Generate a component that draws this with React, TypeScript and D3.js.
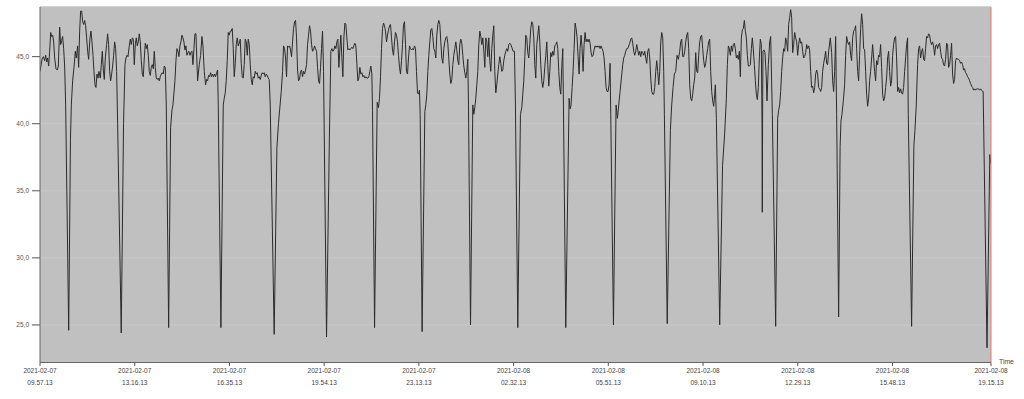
import React from "react";
import * as d3 from "d3";

// Start of the time axis (UTC) and the tick offsets in minutes
const START_UTC = Date.UTC(2021, 1, 7, 9, 57, 13);
const END_MINUTES = 1998;
const xTickMinutes = [0, 199, 398, 597, 796, 995, 1194, 1393, 1592, 1791, 1998];
const yTicks = [25, 30, 35, 40, 45];
const yDomain = [22.2, 48.7];
const xAxisTitle = "Time";

// [minutes since start, value]
const readings: [number, number][] = [
  [0,43.9],[4.2,44.8],[7,45.0],[9.8,44.7],[12,45.1],[14,44.6],[16,44.9],[18.2,44.3],[20.3,45.4],[22.4,46.8],
  [24.5,46.5],[26.6,46.6],[28.7,46.1],[30.8,44.9],[33.6,44.1],[36.4,44.0],[38.5,44.3],[41.3,47.2],[43.4,45.9],
  [45.5,46.2],[47.6,46.5],[49.7,45.6],[51.8,44.3],[53.9,41.4],[60.3,24.6],[64,38.8],[65.8,41.4],[68.6,43.2],
  [71.4,44.2],[74.2,45.4],[76.3,44.9],[79.1,45.8],[81.2,44.2],[83.3,46.9],[85.4,48.4],[87.5,48.4],[89.6,47.6],
  [91.7,47.4],[93.8,47.7],[95.9,47.3],[98,46.4],[100.1,45.4],[102.2,44.8],[105,46.4],[107.1,46.9],[109.2,46.1],
  [111.3,45.1],[113.4,43.9],[115.5,42.9],[117.6,42.7],[119.7,43.7],[121.8,43.4],[123.9,43.9],[126.7,43.4],
  [128.8,44.4],[130.9,45.4],[133,44.0],[135.1,43.3],[137.2,44.9],[140,45.9],[142.1,46.7],[144.2,45.9],
  [146.3,43.9],[148.4,43.2],[150.5,43.7],[152.6,44.3],[154.7,45.1],[156.8,46.1],[158.9,45.6],[161,43.9],
  [163.1,40.0],[170.7,24.4],[175.5,40.0],[178.5,44.4],[180.6,44.9],[182.7,45.1],[184.8,45.0],[187.6,45.8],
  [189.7,46.3],[191.8,45.9],[193.9,46.4],[196,46.3],[198.1,44.4],[200.2,45.9],[202.3,46.4],[204.4,45.8],
  [206.5,46.1],[208.6,46.7],[210.7,46.1],[212.8,44.7],[214.9,43.7],[217,43.5],[219.1,44.9],[221.2,46.0],
  [223.3,45.6],[225.4,45.9],[227.5,45.1],[229.6,43.9],[231.7,43.6],[233.8,44.2],[235.9,44.4],[238,44.1],
  [240.1,45.4],[242.2,44.2],[244.3,43.4],[246.4,43.3],[248.5,43.4],[250.6,43.2],[252.7,43.5],[254.8,43.7],
  [256.9,43.8],[259,43.7],[261.1,44.3],[263.2,44.2],[265.3,41.4],[270.3,24.8],[274.4,39.7],[277.2,41.0],
  [279.3,41.4],[281.4,42.3],[283.5,43.2],[285.6,44.7],[287.7,45.6],[289.8,45.4],[291.9,45.0],[294,45.8],
  [296.1,46.1],[298.2,46.6],[300.3,46.4],[302.4,46.1],[304.5,45.5],[306.6,45.8],[308.7,45.1],[310.8,45.3],
  [312.9,45.4],[315,45.1],[317.1,45.3],[319.2,45.4],[321.3,44.4],[323.4,45.6],[325.5,46.7],[327.6,46.7],
  [331.1,43.2],[334.6,44.4],[337.4,45.1],[340.2,46.5],[342.3,45.8],[345.1,43.9],[347.9,42.9],[350,43.3],
  [352.1,43.2],[354.2,43.6],[356.3,43.5],[358.4,43.8],[360.5,43.5],[362.6,43.7],[364.7,43.5],[366.8,43.7],
  [368.9,43.5],[371,43.8],[373.1,44.0],[374.5,41.4],[380.1,24.8],[385,41.4],[387.1,41.9],[389.2,42.3],
  [391.3,43.2],[393.4,44.7],[395.5,46.8],[397.6,46.6],[399.7,46.9],[401.8,46.9],[403.9,47.1],[406,45.6],
  [408.1,43.5],[410.2,44.5],[412.3,45.9],[414.4,46.4],[416.5,45.8],[418.6,46.0],[420.7,46.3],[422.8,44.5],
  [424.9,43.5],[427,43.4],[429.1,44.4],[431.2,46.3],[433.3,46.1],[435.4,45.1],[437.5,46.3],[439.6,45.9],
  [441.7,44.4],[443.8,43.3],[445.9,42.9],[448,43.5],[450.1,43.4],[452.2,43.9],[454.3,43.7],[456.4,43.8],
  [458.5,43.4],[460.6,43.5],[462.7,43.3],[464.8,43.6],[466.9,43.8],[469,43.7],[471.1,43.8],[473.2,43.5],
  [475.3,43.7],[477.4,43.6],[479.5,43.4],[481.6,43.3],[483.7,41.4],[492,24.3],[497.7,38.2],[501,40.0],
  [506.8,42.4],[509.6,43.9],[511.7,45.8],[513.8,45.6],[515.9,44.9],[518,43.5],[520.1,45.8],[522.2,45.7],
  [524.3,45.8],[526.4,45.5],[528.5,45.0],[530.6,46.1],[532.7,47.1],[534.8,47.6],[536.9,47.7],[539,46.4],
  [541.1,44.0],[543.2,43.2],[545.3,43.3],[547.4,43.9],[549.5,44.0],[551.6,43.5],[553.7,43.9],[555.8,43.7],
  [557.9,44.0],[560,44.4],[562.1,45.9],[564.2,46.6],[566.3,47.3],[568.4,46.9],[570.5,45.9],[572.6,45.4],
  [574.7,45.5],[576.8,45.8],[578.9,45.6],[581,45.4],[583.1,44.2],[585.2,43.2],[587.3,43.0],[589.4,44.2],
  [591.5,45.6],[593.6,46.9],[595.7,43.9],[602,24.1],[608,39.0],[611.1,45.4],[613.2,45.6],[615.3,45.4],
  [617.4,45.5],[619.5,45.8],[621.6,45.6],[623.7,46.1],[625.8,46.3],[627.9,44.2],[630,45.5],[632.1,46.6],
  [634.2,44.9],[636.3,43.5],[638.4,46.4],[640.5,47.5],[642.6,47.4],[644.7,46.4],[646.8,45.5],[648.9,45.6],
  [651,45.5],[653.1,45.6],[655.2,45.7],[657.3,45.6],[659.4,45.8],[661.5,46.0],[663.6,45.8],[665.7,44.5],
  [667.8,43.2],[669.9,43.4],[672,44.2],[674.1,43.7],[676.2,43.8],[678.3,43.5],[680.4,43.6],[682.5,43.4],
  [684.6,43.5],[686.7,43.4],[688.8,43.4],[690.9,43.5],[693,43.9],[695.1,44.3],[697.2,43.7],[698.6,41.0],
  [702.9,24.8],[708.4,41.6],[711.2,41.2],[713.3,41.9],[715.4,43.5],[717.5,45.6],[719.6,47.1],[721.7,47.5],
  [723.8,47.3],[725.9,46.9],[728,46.1],[730.1,46.6],[732.2,47.0],[734.3,47.3],[736.4,47.4],[738.5,46.4],
  [740.6,45.5],[742.7,45.1],[744.8,46.1],[746.9,46.8],[749,46.6],[751.1,46.1],[753.2,45.1],[755.3,44.2],
  [757.4,43.7],[759.5,44.7],[761.6,45.9],[763.7,47.4],[765.8,47.6],[767.9,45.9],[770,43.9],[772.1,43.7],
  [774.2,44.9],[776.3,45.8],[778.4,45.6],[780.5,45.5],[782.6,45.6],[784.7,45.5],[786.8,45.8],[788.9,45.6],
  [791,43.9],[793.1,42.3],[795.2,42.2],[797.3,42.5],[798.7,40.7],[802.8,24.5],[808.5,40.9],[810.6,41.4],
  [812.7,42.2],[814.8,43.9],[816.9,45.1],[819,46.1],[821.1,47.0],[823.2,47.1],[825.3,46.5],[827.4,45.6],
  [829.5,45.4],[831.6,44.9],[833.7,46.6],[835.8,47.4],[837.9,47.7],[840,47.4],[842.1,46.1],[844.2,44.9],
  [846.3,44.5],[848.4,45.6],[850.5,46.1],[852.6,46.4],[854.7,46.5],[856.8,46.0],[858.9,44.8],[861,43.7],
  [863.1,43.0],[865.2,43.3],[867.3,44.4],[869.4,45.1],[871.5,45.6],[873.6,46.1],[875.7,45.5],[877.8,44.7],
  [879.9,44.4],[882,45.9],[884.1,46.3],[886.2,46.0],[888.3,45.1],[890.4,44.3],[892.5,43.8],[894.6,43.4],
  [896.7,43.9],[898.8,44.8],[900.2,41.4],[904.5,25.0],[909.3,41.4],[911.4,40.7],[913.5,41.2],[915.6,41.9],
  [917.7,42.9],[919.8,43.9],[921.9,45.9],[924,46.9],[926.1,46.5],[928.2,45.9],[930.3,46.4],[932.4,45.4],
  [934.5,44.2],[936.6,46.4],[938.7,46.1],[940.8,45.0],[942.9,46.4],[945,44.7],[947.1,43.9],[949.2,45.6],
  [951.3,46.6],[953.4,47.3],[955.5,43.9],[957.6,42.3],[959.7,42.9],[961.8,43.7],[963.9,44.4],[966,45.0],
  [968.1,44.5],[970.2,43.9],[972.3,44.0],[974.4,44.7],[976.5,45.1],[978.6,45.4],[980.7,45.6],[982.8,45.4],
  [984.9,45.9],[987,46.0],[989.1,45.9],[991.2,45.7],[994,45.4],[996.8,45.4],[998.9,41.4],[1003.8,24.8],
  [1009.4,40.7],[1012.2,41.2],[1014.3,42.2],[1016.4,43.2],[1018.5,44.9],[1020.6,46.6],[1022.7,46.4],
  [1024.8,45.3],[1026.9,44.9],[1029,45.9],[1031.1,47.1],[1033.2,47.6],[1035.3,47.4],[1037.4,46.4],
  [1039.5,44.4],[1041.6,43.4],[1043.7,45.9],[1045.8,46.6],[1047.9,47.3],[1050,46.1],[1052.1,44.4],
  [1054.2,43.2],[1056.3,42.7],[1058.4,43.2],[1060.5,44.2],[1062.6,45.1],[1064.7,46.1],[1066.8,44.4],
  [1068.9,42.8],[1071,43.9],[1073.1,45.3],[1075.2,45.0],[1077.3,45.4],[1079.4,45.1],[1081.5,45.8],
  [1083.6,45.9],[1085.7,46.1],[1087.8,45.6],[1089.9,43.9],[1092,42.7],[1094.1,42.2],[1096.2,44.2],
  [1098.3,45.6],[1099.7,41.4],[1104.6,24.8],[1111.6,41.9],[1113.7,41.1],[1115.8,41.4],[1117.9,42.7],
  [1120,43.9],[1122.1,45.6],[1124.2,47.5],[1126.3,47.1],[1128.4,46.4],[1130.5,45.0],[1132.6,43.7],
  [1134.7,45.6],[1136.8,46.6],[1138.9,45.6],[1141,43.9],[1143.1,45.9],[1145.2,46.8],[1147.3,46.1],
  [1149.4,46.3],[1151.5,46.1],[1153.6,46.3],[1155.7,46.0],[1157.8,45.3],[1159.9,45.0],[1162,45.1],
  [1164.1,45.5],[1166.2,45.8],[1168.3,45.7],[1170.4,45.8],[1172.5,45.7],[1174.6,45.8],[1176.7,45.6],
  [1178.8,45.8],[1180.9,45.6],[1183,45.4],[1185.1,44.9],[1187.2,43.9],[1189.3,42.7],[1191.4,42.4],
  [1193.5,42.4],[1195.6,42.9],[1197.7,44.5],[1199.1,40.7],[1204.8,25.0],[1210.3,41.4],[1213.1,40.4],
  [1215.9,41.4],[1218.7,42.4],[1221.5,43.4],[1224.3,44.4],[1226.4,44.9],[1228.5,45.1],[1230.6,45.4],
  [1232.7,45.6],[1234.8,45.6],[1236.9,45.8],[1239,46.0],[1241.1,46.3],[1243.2,46.4],[1245.3,46.0],
  [1247.4,45.4],[1249.5,45.1],[1251.6,45.4],[1253.7,45.9],[1255.8,45.5],[1257.9,45.1],[1260,45.4],
  [1262.1,45.0],[1264.2,45.4],[1266.3,45.3],[1268.4,45.1],[1270.5,45.4],[1272.6,44.9],[1274.7,44.5],
  [1276.8,45.4],[1278.9,45.6],[1281,44.9],[1283.1,43.4],[1285.2,42.4],[1287.3,42.2],[1289.4,42.2],
  [1291.5,42.7],[1293.6,43.9],[1295.7,44.7],[1297.8,43.9],[1299.9,42.9],[1302,43.9],[1304.1,46.1],
  [1306.2,46.8],[1308.3,46.4],[1310.4,43.9],[1311.8,40.7],[1317.8,25.1],[1324.4,39.5],[1327.2,41.4],
  [1330,42.7],[1332.8,43.7],[1335.6,43.9],[1338.4,45.1],[1341.2,44.8],[1344,45.4],[1346.1,46.1],
  [1348.2,46.3],[1350.3,45.0],[1352.4,45.0],[1354.5,45.4],[1356.6,46.1],[1358.7,46.6],[1360.8,46.8],
  [1362.9,45.6],[1365,42.9],[1367.1,41.9],[1369.2,41.7],[1371.3,42.2],[1373.4,42.9],[1375.5,43.4],
  [1377.6,45.3],[1379.7,43.9],[1381.8,43.8],[1383.9,45.1],[1386,46.1],[1388.1,46.5],[1390.2,46.6],
  [1392.3,45.6],[1394.4,44.7],[1396.5,44.2],[1398.6,44.5],[1400.7,45.1],[1402.8,45.6],[1404.9,46.1],
  [1407,46.3],[1409.1,43.9],[1411.2,42.4],[1413.3,41.7],[1415.4,41.3],[1417.5,42.2],[1418.9,42.9],
  [1421,40.4],[1428,25.0],[1434,36.9],[1438.5,39.3],[1442,41.9],[1444.1,44.4],[1446.2,45.8],[1448.3,45.6],
  [1450.4,45.1],[1452.5,45.8],[1454.6,45.4],[1456.7,45.9],[1458.8,46.0],[1460.9,45.6],[1463,44.9],
  [1465.1,45.1],[1467.2,44.8],[1469.3,45.4],[1471.4,43.5],[1473.5,46.4],[1475.6,47.0],[1477.7,47.1],
  [1479.8,47.7],[1481.9,46.9],[1484,46.4],[1486.1,45.1],[1488.2,44.3],[1490.3,44.3],[1492.4,44.4],
  [1494.5,45.6],[1496.6,46.4],[1498.7,45.5],[1500.8,44.4],[1502.9,43.2],[1505,42.2],[1507.1,41.8],
  [1509.2,42.7],[1511.3,44.9],[1513.4,46.3],[1515.5,45.9],[1516.9,40.0],[1517.5,33.4],[1518.3,42.0],
  [1519,45.4],[1521.1,45.5],[1523.2,45.3],[1525.3,43.9],[1527.4,41.7],[1530.2,44.4],[1533,46.1],
  [1535.1,46.5],[1538.6,40.7],[1545.6,24.9],[1549.8,40.4],[1551.9,41.0],[1554,41.4],[1556.1,42.4],
  [1558.2,43.9],[1560.3,44.9],[1562.4,45.6],[1564.5,45.4],[1566.6,46.4],[1568.7,46.1],[1570.8,45.4],
  [1572.9,47.4],[1575,47.9],[1577.1,48.5],[1579.2,47.9],[1581.3,45.3],[1583.4,45.9],[1585.5,46.8],
  [1587.6,46.4],[1589.7,46.1],[1591.8,45.1],[1593.9,45.9],[1596,46.4],[1598.1,46.0],[1600.2,46.1],
  [1602.3,45.4],[1604.4,44.9],[1606.5,45.0],[1608.6,45.3],[1610.7,45.9],[1612.8,45.6],[1614.9,45.8],
  [1617,45.5],[1619.1,43.9],[1621.2,42.7],[1623.3,42.8],[1625.4,42.3],[1627.5,42.7],[1629.6,43.7],
  [1631.7,44.0],[1633.8,43.7],[1635.9,42.7],[1638,42.6],[1640.1,42.4],[1642.2,42.7],[1644.3,43.9],
  [1646.4,44.5],[1648.5,44.9],[1650.6,45.4],[1652.7,44.5],[1654.8,44.4],[1656.9,45.4],[1660.4,46.4],
  [1663.2,45.3],[1665.3,43.2],[1667.4,42.4],[1669.5,43.9],[1671.6,46.5],[1673.7,40.7],[1677.9,25.6],
  [1681,38.3],[1682.8,40.2],[1684.9,40.7],[1687.7,41.7],[1690.5,42.9],[1692.6,45.1],[1694.7,46.5],
  [1696.8,46.1],[1698.9,45.9],[1701,46.1],[1703.1,45.1],[1705.2,44.7],[1707.3,46.4],[1709.4,46.9],
  [1711.5,47.0],[1713.6,47.3],[1715.7,45.6],[1717.8,43.9],[1719.9,43.2],[1722,45.1],[1724.1,47.1],
  [1726.2,48.2],[1728.3,47.4],[1730.4,45.6],[1732.5,45.5],[1734.6,43.9],[1736.7,42.2],[1738.8,41.3],
  [1740.9,41.9],[1743,43.2],[1745.1,43.9],[1747.2,44.9],[1749.3,45.9],[1751.4,44.9],[1753.5,43.9],
  [1755.6,43.2],[1757.7,44.7],[1759.8,44.4],[1761.9,45.1],[1764,45.0],[1766.1,45.9],[1768.2,44.2],
  [1770.3,42.2],[1772.4,41.7],[1774.5,41.9],[1776.6,42.7],[1778.7,43.4],[1780.8,44.9],[1782.9,45.4],
  [1785,43.9],[1787.1,42.8],[1789.2,43.2],[1791.3,45.1],[1793.4,45.9],[1795.5,46.4],[1797.6,46.5],
  [1799.7,44.9],[1801.8,42.4],[1803.9,42.7],[1806,42.3],[1808.1,42.6],[1810.2,42.3],[1812.3,42.2],
  [1814.4,42.7],[1816.5,43.9],[1818.6,44.9],[1820.7,45.9],[1822.8,46.4],[1824.2,40.7],[1831.2,24.9],
  [1836,38.4],[1838.2,39.5],[1841,41.4],[1843.8,44.4],[1845.9,45.6],[1848,45.8],[1850.1,44.9],
  [1852.2,45.4],[1854.3,45.6],[1856.4,44.8],[1858.5,44.7],[1860.6,45.6],[1862.7,46.5],[1864.8,46.4],
  [1866.9,46.7],[1869,46.6],[1871.1,46.1],[1873.2,45.9],[1875.3,46.1],[1877.4,45.8],[1879.5,45.1],
  [1881.6,45.8],[1883.7,45.9],[1885.8,45.6],[1887.9,45.9],[1890,46.0],[1892.1,45.4],[1894.2,44.9],
  [1896.3,44.8],[1898.4,44.4],[1900.5,44.3],[1902.6,44.8],[1904.7,46.0],[1906.8,45.9],[1908.9,44.2],
  [1911,44.4],[1913.1,45.1],[1915.2,46.0],[1917.3,43.7],[1919.4,43.0],[1921.5,43.3],[1923.6,44.7],
  [1925.7,44.9],[1927.8,44.8],[1929.9,44.8],[1932,44.7],[1934.1,44.5],[1936.2,44.6],[1938.3,44.4],
  [1940.4,44.0],[1942.5,44.1],[1944.6,43.8],[1946.7,43.7],[1948.8,43.5],[1950.9,43.4],[1953,43.2],
  [1955.1,43.0],[1957.2,42.8],[1959.3,42.7],[1961.4,42.5],[1963.5,42.6],[1965.6,42.5],[1967.7,42.6],
  [1969.8,42.6],[1971.9,42.6],[1974,42.5],[1976.1,42.6],[1978.2,42.5],[1980.3,42.4],[1981.5,42.4],
  [1989.6,23.3],[1995.5,37.7],[1998,37.0]
];

const W = 1024;
const H = 399;
const M = { left: 40, right: 991, top: 7, bottom: 362.5 };
const FONT = "'Liberation Sans', Arial, sans-serif";

const fmtDate = d3.utcFormat("%Y-%m-%d");
const fmtTime = d3.utcFormat("%H.%M.%S");
const fmtY = (v: number) => d3.format(".1f")(v).replace(".", ",");
const toDate = (m: number) => new Date(START_UTC + m * 60000);

export default function App() {
  const x = d3.scaleUtc().domain([toDate(0), toDate(END_MINUTES)]).range([M.left, M.right]);
  const y = d3.scaleLinear().domain(yDomain).range([M.bottom, M.top]);
  const line = d3
    .line<[number, number]>()
    .x((d) => x(toDate(d[0])))
    .y((d) => y(d[1]));

  return (
    <svg
      width={W}
      height={H}
      style={{ position: "absolute", left: 0, top: 0, background: "#fff" }}
      fontFamily={FONT}
    >
      <rect x={M.left} y={M.top} width={M.right - M.left} height={M.bottom - M.top} fill="#c0c0c0" />
      {yTicks.map((t) => (
        <line key={"g" + t} x1={M.left} x2={M.right} y1={y(t)} y2={y(t)} stroke="#c8c8c8" strokeWidth={1} />
      ))}
      <defs>
        <clipPath id="plot">
          <rect x={M.left} y={M.top} width={M.right - M.left} height={M.bottom - M.top} />
        </clipPath>
      </defs>
      <path d={line(readings) || ""} fill="none" stroke="#2b2b2b" strokeWidth={1} clipPath="url(#plot)" />
      <line x1={M.left} x2={M.right} y1={M.top - 0.5} y2={M.top - 0.5} stroke="#d4d4d4" />
      <line x1={M.left} x2={M.left} y1={M.top} y2={M.bottom} stroke="#666" />
      <line x1={M.left} x2={M.right} y1={M.bottom} y2={M.bottom} stroke="#666" />
      <line x1={M.right} x2={M.right} y1={M.top} y2={M.bottom} stroke="#ee7070" />
      {yTicks.map((t) => (
        <g key={"y" + t}>
          <line x1={M.left - 8} x2={M.left} y1={y(t)} y2={y(t)} stroke="#555" />
          <text x={M.left - 11} y={y(t)} dy="0.35em" textAnchor="end" fontSize={6.5} fill="#555">
            {fmtY(t)}
          </text>
        </g>
      ))}
      {xTickMinutes.map((m) => {
        const px = x(toDate(m));
        return (
          <g key={"x" + m}>
            <line x1={px} x2={px} y1={M.bottom} y2={M.bottom + 3.5} stroke="#555" />
            <text x={px} y={372.7} textAnchor="middle" fontSize={6.5} fill="#444">
              {fmtDate(toDate(m))}
            </text>
            <text x={px} y={384.7} textAnchor="middle" fontSize={6.5} fill="#444">
              {fmtTime(toDate(m))}
            </text>
          </g>
        );
      })}
      <text x={999} y={363.7} fontSize={6.8} fill="#444">
        {xAxisTitle}
      </text>
    </svg>
  );
}
